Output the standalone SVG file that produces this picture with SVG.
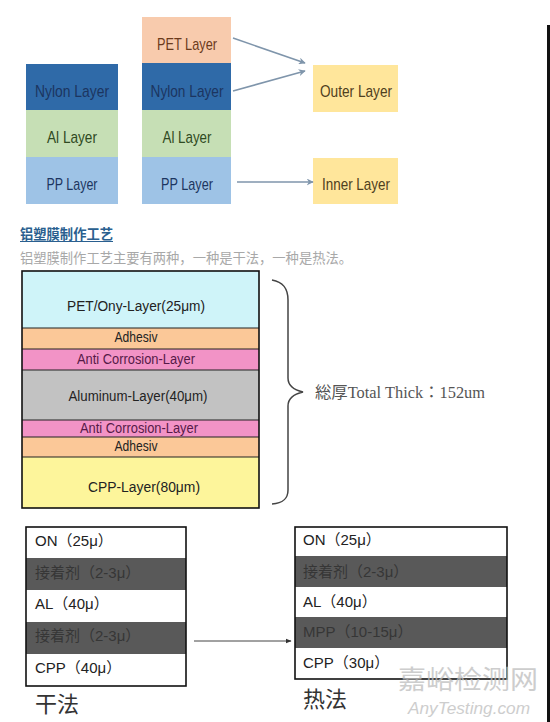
<svg xmlns="http://www.w3.org/2000/svg" width="550" height="722" viewBox="0 0 550 722">
<defs>
<style>
.lbl{font-family:"Liberation Sans","Noto Sans CJK SC",sans-serif;font-size:17px;text-anchor:middle}
.stk{font-family:"Liberation Sans","Noto Sans CJK SC",sans-serif;font-size:14px;text-anchor:middle;fill:#222}
.tb{font-family:"Liberation Sans","Noto Sans CJK SC",sans-serif;font-size:15px;fill:#222}
.tbd{font-family:"Liberation Sans","Noto Sans CJK SC",sans-serif;font-size:15px;fill:#363636}
.cjk{font-family:"Noto Sans CJK SC",sans-serif}
.frame{fill:none;stroke:#111;stroke-width:1.6}
.conn{fill:none;stroke:#7f95ab;stroke-width:1.6}
</style>
<marker id="ah" viewBox="0 0 10 10" refX="9" refY="5" markerWidth="7" markerHeight="7" orient="auto" markerUnits="userSpaceOnUse">
<path d="M0,0 L10,5 L0,10 L3,5 Z" fill="#7f95ab"/>
</marker>
<marker id="ah2" viewBox="0 0 10 10" refX="9" refY="5" markerWidth="6" markerHeight="6" orient="auto" markerUnits="userSpaceOnUse">
<path d="M0,1 L10,5 L0,9 Z" fill="#333"/>
</marker>
</defs>
<rect width="550" height="722" fill="#ffffff"/>
<rect x="547" y="25" width="3" height="697" fill="#111"/>

<!-- top left column -->
<g id="left-nylon"><rect x="26" y="64" width="92" height="46" fill="#2f6aa8"/><text class="lbl" x="72" y="97" fill="#1c3560" textLength="74" lengthAdjust="spacingAndGlyphs">Nylon Layer</text></g>
<g id="left-al"><rect x="26" y="110" width="92" height="47" fill="#c6dfb5"/><text class="lbl" x="72" y="143" fill="#2f4a22" textLength="50" lengthAdjust="spacingAndGlyphs">Al Layer</text></g>
<g id="left-pp"><rect x="26" y="157" width="92" height="47" fill="#9ec3e6"/><text class="lbl" x="72" y="190" fill="#1c3560" textLength="51" lengthAdjust="spacingAndGlyphs">PP Layer</text></g>

<!-- top middle column -->
<g id="mid-pet"><rect x="142" y="17" width="89" height="46" fill="#f8cbad"/><text class="lbl" x="187" y="50" fill="#6b3a1c" textLength="60" lengthAdjust="spacingAndGlyphs">PET Layer</text></g>
<g id="mid-nylon"><rect x="142" y="63" width="89" height="47" fill="#2f6aa8"/><text class="lbl" x="187" y="97" fill="#1c3560" textLength="73" lengthAdjust="spacingAndGlyphs">Nylon Layer</text></g>
<g id="mid-al"><rect x="142" y="110" width="89" height="47" fill="#c6dfb5"/><text class="lbl" x="187" y="143" fill="#2f4a22" textLength="49" lengthAdjust="spacingAndGlyphs">Al Layer</text></g>
<g id="mid-pp"><rect x="142" y="157" width="89" height="47" fill="#9ec3e6"/><text class="lbl" x="187" y="190" fill="#1c3560" textLength="52" lengthAdjust="spacingAndGlyphs">PP Layer</text></g>

<g id="outer"><rect x="313" y="65" width="85" height="47" fill="#ffe69b"/><text class="lbl" x="356" y="97" fill="#4f4020" textLength="72" lengthAdjust="spacingAndGlyphs">Outer Layer</text></g>
<g id="inner"><rect x="313" y="158" width="85" height="46" fill="#ffe69b"/><text class="lbl" x="356" y="190" fill="#4f4020" textLength="68" lengthAdjust="spacingAndGlyphs">Inner Layer</text></g>

<!-- heading -->
<g id="heading">
<text x="20" y="239" class="cjk" font-size="13.3" font-weight="bold" fill="#2a5f8f" textLength="93" lengthAdjust="spacingAndGlyphs">铝塑膜制作工艺</text>
<line x1="20" y1="241.5" x2="113" y2="241.5" stroke="#2a5f8f" stroke-width="1"/>
<text x="20" y="263" class="cjk" font-size="13.3" fill="#a8a8a8" textLength="332" lengthAdjust="spacingAndGlyphs">铝塑膜制作工艺主要有两种，一种是干法，一种是热法。</text>
</g>

<!-- layer stack -->
<g id="stack">
<rect x="22" y="271" width="237" height="57" fill="#cff4f9"/>
<rect x="22" y="328" width="237" height="21" fill="#fbc898"/>
<rect x="22" y="349" width="237" height="21" fill="#f293c6"/>
<rect x="22" y="370" width="237" height="50" fill="#c2c2c2"/>
<rect x="22" y="420" width="237" height="17" fill="#f293c6"/>
<rect x="22" y="437" width="237" height="20" fill="#fbc898"/>
<rect x="22" y="457" width="237" height="51" fill="#fdf59b"/>
<g stroke="#222" stroke-width="1.2">
<line x1="22" y1="328" x2="259" y2="328"/><line x1="22" y1="349" x2="259" y2="349"/>
<line x1="22" y1="370" x2="259" y2="370"/><line x1="22" y1="420" x2="259" y2="420"/>
<line x1="22" y1="437" x2="259" y2="437"/><line x1="22" y1="457" x2="259" y2="457"/>
</g>
<rect x="22" y="271" width="237" height="237" class="frame"/>
<text class="stk" x="136" y="311" textLength="138" lengthAdjust="spacingAndGlyphs">PET/Ony-Layer(25μm)</text>
<text class="stk" x="136" y="342" textLength="43" lengthAdjust="spacingAndGlyphs">Adhesiv</text>
<text class="stk" x="136" y="364" style="fill:#561a48" textLength="118" lengthAdjust="spacingAndGlyphs">Anti Corrosion-Layer</text>
<text class="stk" x="138" y="401" textLength="139" lengthAdjust="spacingAndGlyphs">Aluminum-Layer(40μm)</text>
<text class="stk" x="139" y="433" style="fill:#561a48" textLength="118" lengthAdjust="spacingAndGlyphs">Anti Corrosion-Layer</text>
<text class="stk" x="136" y="451" textLength="43" lengthAdjust="spacingAndGlyphs">Adhesiv</text>
<text class="stk" x="144" y="492" textLength="112" lengthAdjust="spacingAndGlyphs">CPP-Layer(80μm)</text>
</g>

<g id="total">
<path d="M272,280 C283,282 288,288 288,300 L288,378 C288,386 294,390 303,392 C294,394 288,398 288,406 L288,490 C288,499 283,503 272,504" fill="none" stroke="#444" stroke-width="1.5"/>
<text x="315" y="398" font-family="Liberation Serif, Noto Sans CJK JP, serif" font-size="16" fill="#555" textLength="170" lengthAdjust="spacingAndGlyphs">総厚Total Thick：152um</text>
</g>

<!-- dry method table -->
<g id="dry">
<rect x="26" y="527" width="160" height="31" fill="#fff"/>
<rect x="26" y="558" width="160" height="32" fill="#595959"/>
<rect x="26" y="590" width="160" height="32" fill="#fff"/>
<rect x="26" y="622" width="160" height="32" fill="#595959"/>
<rect x="26" y="654" width="160" height="32" fill="#fff"/>
<rect x="26" y="527" width="160" height="159" class="frame"/>
<text class="tb" x="35" y="546">ON（25μ）</text>
<text class="tbd" x="35" y="578">接着剂（2-3μ）</text>
<text class="tb" x="35" y="609">AL（40μ）</text>
<text class="tbd" x="35" y="641">接着剂（2-3μ）</text>
<text class="tb" x="35" y="673">CPP（40μ）</text>
<text x="35" y="712" class="cjk" font-size="22" fill="#333">干法</text>
</g>

<!-- hot method table -->
<g id="hot">
<rect x="295" y="527" width="212" height="29" fill="#fff"/>
<rect x="295" y="556" width="212" height="31" fill="#595959"/>
<rect x="295" y="587" width="212" height="30" fill="#fff"/>
<rect x="295" y="617" width="212" height="31" fill="#595959"/>
<rect x="295" y="648" width="212" height="31" fill="#fff"/>
<rect x="295" y="527" width="212" height="152" class="frame"/>
<text class="tb" x="303" y="545">ON（25μ）</text>
<text class="tbd" x="303" y="577">接着剂（2-3μ）</text>
<text class="tb" x="303" y="607">AL（40μ）</text>
<text class="tbd" x="303" y="637">MPP（10-15μ）</text>
<text class="tb" x="303" y="668">CPP（30μ）</text>
<text x="303" y="707" class="cjk" font-size="22" fill="#333">热法</text>
</g>

<g id="connectors">
<line x1="233" y1="38" x2="305" y2="63" class="conn" marker-end="url(#ah)"/>
<line x1="233" y1="91" x2="305" y2="71" class="conn" marker-end="url(#ah)"/>
<line x1="237" y1="182" x2="313" y2="182" class="conn" marker-end="url(#ah)"/>
<line x1="194" y1="641" x2="291" y2="641" stroke="#444" stroke-width="1" marker-end="url(#ah2)"/>
</g>

<g id="watermark" opacity="0.75">
<text x="398" y="689" class="cjk" font-size="26" fill="#bdbdbd" textLength="140" lengthAdjust="spacingAndGlyphs">嘉峪检测网</text>
<text x="408" y="714" font-family="Liberation Sans, sans-serif" font-style="italic" font-size="16" fill="#bdbdbd" textLength="122" lengthAdjust="spacingAndGlyphs">AnyTesting.com</text>
</g>
</svg>
